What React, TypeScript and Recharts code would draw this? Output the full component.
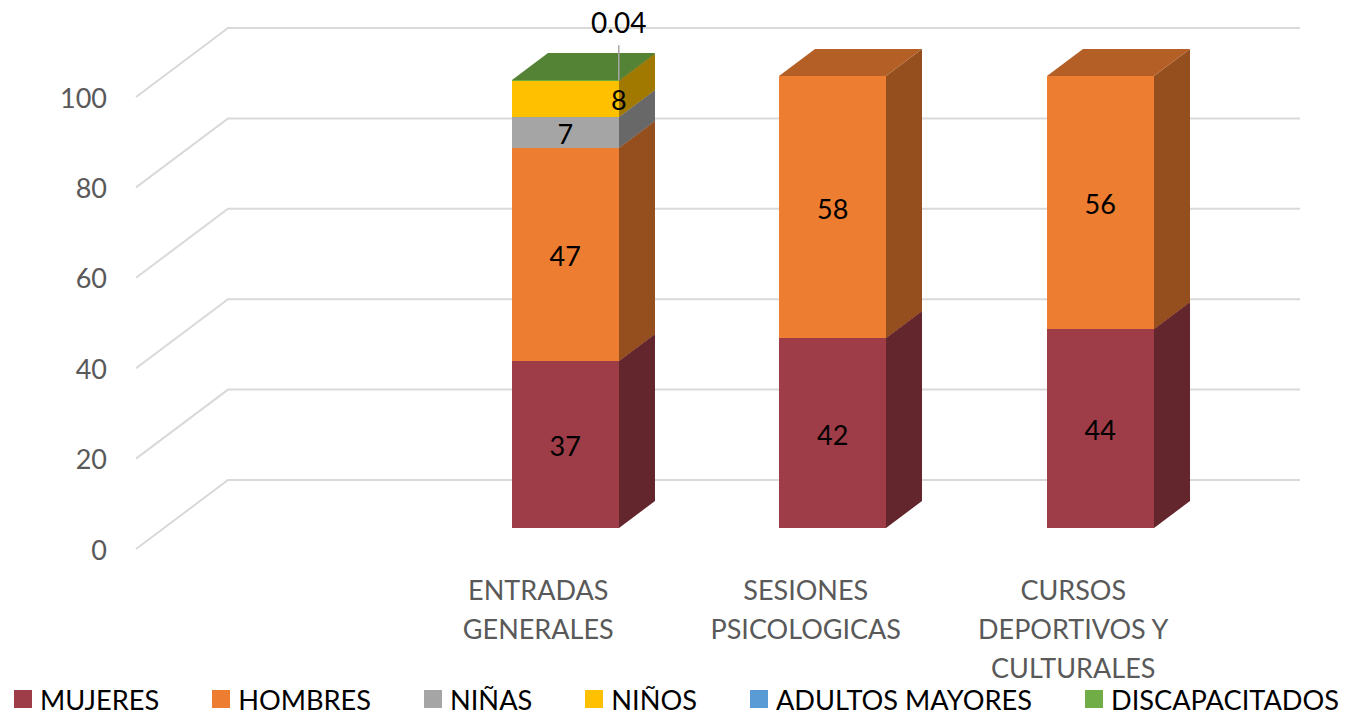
import React from "react";
import { BarChart, Bar, XAxis, YAxis, CartesianGrid, Legend, LabelList } from "recharts";

const categories = ["", "ENTRADAS GENERALES", "SESIONES PSICOLOGICAS", "CURSOS DEPORTIVOS Y CULTURALES"];
const categoryLines: Record<string, string[]> = {
  "ENTRADAS GENERALES": ["ENTRADAS", "GENERALES"],
  "SESIONES PSICOLOGICAS": ["SESIONES", "PSICOLOGICAS"],
  "CURSOS DEPORTIVOS Y CULTURALES": ["CURSOS", "DEPORTIVOS Y", "CULTURALES"],
};
const mujeres = [null, 37, 42, 44];
const hombres = [null, 47, 58, 56];
const ninas = [null, 7, null, null];
const ninos = [null, 8, null, null];
const adultos = [null, null, null, null];
const discapacitados = [null, 0.04, null, null];
const yTicks = [0, 20, 40, 60, 80, 100];

const seriesList = [
  { name: "MUJERES", values: mujeres, color: "#9E3D48" },
  { name: "HOMBRES", values: hombres, color: "#ED7D31" },
  { name: "NIÑAS", values: ninas, color: "#A5A5A5" },
  { name: "NIÑOS", values: ninos, color: "#FFC000" },
  { name: "ADULTOS MAYORES", values: adultos, color: "#5B9BD5" },
  { name: "DISCAPACITADOS", values: discapacitados, color: "#70AD47" },
];

const data = categories.map((category, i) => {
  const row: Record<string, string | number | null> = { category };
  seriesList.forEach((s) => (row[s.name] = s.values[i]));
  return row;
});

const FONT = "Lato, Carlito, sans-serif";
const FS = 27;
const BAR_DX = 28;
const BAR_DY = -21;
const DEPTH_X = 36;
const DEPTH_Y = -27;
const WALL_X = 92;
const WALL_Y = -69;
const WALL_OVER = 2;

const shade = (hex: string, k: number) => {
  const n = parseInt(hex.slice(1), 16);
  const c = [(n >> 16) & 255, (n >> 8) & 255, n & 255].map((v) => Math.round(v * k));
  return `rgb(${c[0]},${c[1]},${c[2]})`;
};

const Bar3D = (props: any) => {
  const { x, y, width, height, fill, seriesName, payload } = props;
  if (payload == null || payload[seriesName] == null) return null;
  const l = Math.round(x + BAR_DX);
  const r = Math.round(x + BAR_DX + width);
  const t = Math.round(y + BAR_DY);
  const b = Math.round(y + BAR_DY + height);
  return (
    <g>
      <polygon
        points={`${r},${t} ${r + DEPTH_X},${t + DEPTH_Y} ${r + DEPTH_X},${b + DEPTH_Y} ${r},${b}`}
        fill={shade(fill, 0.63)}
      />
      <polygon
        points={`${l},${t} ${l + DEPTH_X},${t + DEPTH_Y} ${r + DEPTH_X},${t + DEPTH_Y} ${r},${t}`}
        fill={shade(fill, 0.76)}
      />
      <rect x={l} y={t} width={r - l} height={b - t} fill={fill} />
    </g>
  );
};

const GridLine = (props: any) => {
  const { x1, x2, y1, y2 } = props;
  return (
    <polyline
      points={`${x1},${y1} ${x1 + WALL_X},${y1 + WALL_Y} ${x2 + WALL_X + WALL_OVER},${y2 + WALL_Y}`}
      fill="none"
      stroke="#D9D9D9"
      strokeWidth={2}
    />
  );
};

const XTick = (props: any) => {
  const { x, y, payload } = props;
  const lines = categoryLines[payload.value] || [];
  return (
    <text x={x} y={y} textAnchor="middle" fontFamily={FONT} fontSize={FS} fill="#595959">
      {lines.map((line, i) => (
        <tspan key={line} x={x + 1} dy={i === 0 ? 0 : 39}>
          {line}
        </tspan>
      ))}
    </text>
  );
};

const makeLabel = (seriesName: string) => (props: any) => {
  const { x, y, width, height, value } = props;
  if (value == null) return null;
  const cx = x + BAR_DX + width / 2;
  const cy = y + BAR_DY + height / 2 + 1;
  if (seriesName === "DISCAPACITADOS") {
    const rx = x + BAR_DX + width;
    return (
      <g>
        <line x1={rx} y1={y + BAR_DY} x2={rx} y2={y + BAR_DY - 35} stroke="#A6A6A6" strokeWidth={1.5} />
        <text x={rx} y={y + BAR_DY - 58} textAnchor="middle" dominantBaseline="central" fontFamily={FONT} fontSize={28} fill="#000">
          {value}
        </text>
      </g>
    );
  }
  const shift = seriesName === "NIÑOS" ? width / 2 : 0;
  return (
    <text x={cx + shift} y={cy} textAnchor="middle" dominantBaseline="central" fontFamily={FONT} fontSize={FS} fill="#000">
      {value}
    </text>
  );
};

const LegendContent = () => (
  <div style={{ display: "flex", height: 30, alignItems: "center", paddingLeft: 14, fontFamily: FONT, fontSize: 27.2, color: "#000", whiteSpace: "nowrap" }}>
    {seriesList.map((s) => (
      <div key={s.name} style={{ display: "flex", alignItems: "center", marginRight: 53 }}>
        <span style={{ width: 18, height: 18, background: s.color, marginRight: 8, display: "inline-block" }} />
        <span>{s.name}</span>
      </div>
    ))}
  </div>
);

export default function App() {
  return (
    <div style={{ position: "absolute", left: 0, top: 0, width: 1350, height: 714, background: "#fff" }}>
      <BarChart
        width={1350}
        height={714}
        data={data}
        barCategoryGap="30%"
        margin={{ top: 97, right: 144, bottom: 5, left: 76 }}
      >
        <CartesianGrid vertical={false} horizontal={(p: any) => <GridLine key={p.key ?? p.index} {...p} />} />
        <XAxis
          dataKey="category"
          axisLine={false}
          tickLine={false}
          tickSize={0}
          height={130}
          interval={0}
          tickMargin={0}
          tick={(p: any) => <XTick {...p} y={p.y + 51} />}
        />
        <YAxis
          width={60}
          domain={[0, 100]}
          ticks={yTicks}
          axisLine={false}
          tickLine={false}
          tickSize={0}
          tickMargin={29}
          tick={{ fontFamily: FONT, fontSize: FS, fill: "#595959", dy: 1 }}
        />
        <Legend
          verticalAlign="bottom"
          align="left"
          content={() => <LegendContent />}
          wrapperStyle={{ height: 30, left: 0, bottom: 0, width: 1350 }}
        />
        {seriesList.map((s) => (
          <Bar
            key={s.name}
            dataKey={s.name}
            stackId="a"
            fill={s.color}
            isAnimationActive={false}
            shape={(p: any) => <Bar3D {...p} seriesName={s.name} />}
          >
            <LabelList dataKey={s.name} content={makeLabel(s.name)} />
          </Bar>
        ))}
      </BarChart>
    </div>
  );
}
